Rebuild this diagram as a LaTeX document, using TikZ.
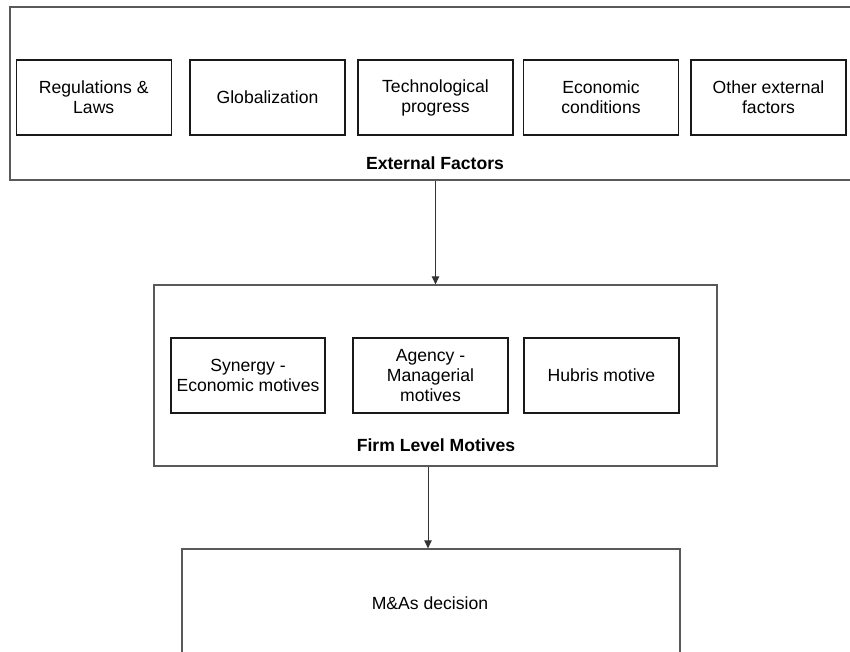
\documentclass[tikz,border=0pt]{standalone}
\usepackage{fontspec}
\setmainfont{Liberation Sans}
\usetikzlibrary{arrows.meta}
\begin{document}
\begin{tikzpicture}[x=0.75pt,y=-0.75pt,
  every node/.style={font=\fontsize{13.2pt}{15pt}\selectfont, align=center, inner sep=0pt},
  container/.style={draw=black!65, line width=0.9pt, fill=none},
  itembox/.style={draw=black!90, line width=0.8pt, minimum width=116.25pt, minimum height=56.25pt},
  caption/.style={font=\fontsize{13.2pt}{15pt}\selectfont\bfseries},
  flow/.style={draw=black!80, line width=0.75pt, -{Triangle[length=6pt,width=5.5pt]}}]
\useasboundingbox (0,0) rectangle (850,651);
\clip (0,0) rectangle (850,651);
\fill[white] (0,0) rectangle (850,651);
% external factors container
\node[container, minimum width=645pt, minimum height=129.75pt] (ext) at (440,93.5) {};
\node[itembox] (reg) at (93.75,97.5) {Regulations \&\\Laws};
\node[itembox] (glob) at (267.5,97.5) {Globalization};
\node[itembox] (tech) at (435.5,97.5) {Technological\\progress};
\node[itembox] (econ) at (601,97.5) {Economic\\conditions};
\node[itembox] (other) at (768.5,97.5) {Other external\\factors};
\node[caption] (extlab) at (435,163) {External Factors};
% firm level motives container
\node[container, minimum width=422.25pt, minimum height=135.75pt] (firm) at (435.5,375.5) {};
\node[itembox, minimum width=115.5pt] (syn) at (248,375.5) {Synergy -\\Economic motives};
\node[itembox] (agency) at (430.5,375.5) {Agency -\\Managerial\\motives};
\node[itembox] (hubris) at (601.5,375.5) {Hubris motive};
\node[caption] (firmlab) at (436,445) {Firm Level Motives};
% M&A decision
\node[container, minimum width=373.5pt, minimum height=113.25pt] (mna) at (431,624.5) {};
\node (mnalab) at (430,603) {M\&As decision};
% connectors
\draw[flow] (firm.north |- ext.south) -- (firm.north);
\draw[flow] ([xshift=-2.25pt]mna.north |- firm.south) -- ([xshift=-2.25pt]mna.north);
\end{tikzpicture}
\end{document}
